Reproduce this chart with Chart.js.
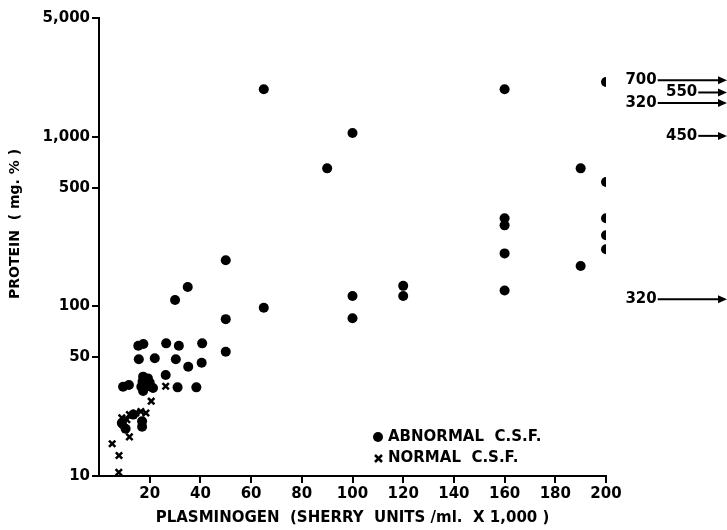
<!DOCTYPE html>
<html>
<head>
<meta charset="utf-8">
<script src="https://cdn.jsdelivr.net/npm/chart.js@4/dist/chart.umd.min.js"></script>
<style>
  body { margin: 0; background: #fff; }
</style>
</head>
<body>
<canvas id="plasChart" width="727" height="530"></canvas>
<script>
// abnormal C.S.F. (filled dots)
const abnormalX = [65, 100, 90, 160, 200, 190, 200, 200, 200, 200, 190, 160, 160, 160, 160,
  120, 120, 100, 100, 65, 50, 50, 50, 35, 30,
  15.5, 17.5, 26.5, 31.5, 40.7, 15.7, 22, 30.3, 35.2, 40.5, 26.3,
  17.4, 19.3, 17.2, 20, 16.7, 18.5, 17.4, 21.3, 9.5, 11.8, 31, 38.4,
  9, 10.5, 17, 17, 13.5];
const abnormalY = [1900, 1050, 650, 1900, 2100, 650, 540, 330, 262, 217, 173, 330, 300, 205, 124,
  132, 115, 115, 85, 98, 187, 84, 54, 130, 109,
  58.5, 60, 60.5, 58.5, 60.5, 48.7, 49.4, 48.7, 44, 46.5, 39.4,
  38.5, 37.6, 36, 35.5, 33.6, 33.6, 31.7, 33, 33.6, 34.4, 33.3, 33.3,
  20.5, 19, 19.5, 21, 23];

// normal C.S.F. (crosses)
const normalX = [26.3, 20.6, 9, 9.5, 11, 12, 12, 14.5, 16.5, 18.5, 5.2, 7.9, 7.8];
const normalY = [33.8, 27.6, 22, 20, 21.5, 17, 23, 23.5, 24, 23.5, 15.5, 13.2, 10.5];

// off-scale values (plasminogen beyond 200), shown with arrows at their protein level
const offLabels = ["700", "550", "320", "450", "320"];
const offProtein = [2150, 1820, 1580, 1010, 110];

const xTicks = [20, 40, 60, 80, 100, 120, 140, 160, 180, 200];
const yTicks = [10, 50, 100, 500, 1000, 5000];
const yTickLabels = ["10", "50", "100", "500", "1,000", "5,000"];

const FONT = "DejaVu Sans";
const arrowStart = [220, 236, 220, 236, 220]; // where each label ends, in x units

const extras = {
  id: "extras",
  afterDraw(chart) {
    const c = chart.ctx;
    const xs = chart.scales.x, ys = chart.scales.y;
    c.save();
    c.fillStyle = "#000";
    c.strokeStyle = "#000";
    c.font = "bold 15px " + FONT;
    c.textBaseline = "middle";

    // off-scale arrows
    offLabels.forEach((lab, i) => {
      const y = ys.getPixelForValue(offProtein[i]);
      const xe = xs.getPixelForValue(arrowStart[i]);
      c.textAlign = "right";
      c.fillText(lab, xe, y);
      c.lineWidth = 2;
      c.beginPath();
      c.moveTo(xe + 1, y);
      c.lineTo(chart.width - 6, y);
      c.stroke();
      c.beginPath();
      c.moveTo(chart.width, y);
      c.lineTo(chart.width - 9, y - 4);
      c.lineTo(chart.width - 9, y + 4);
      c.closePath();
      c.fill();
    });

    // legend
    c.textAlign = "left";
    c.beginPath();
    c.arc(378, 437, 5, 0, Math.PI * 2);
    c.fill();
    c.fillText("ABNORMAL  C.S.F.", 388, 437);
    c.lineWidth = 2.5;
    c.beginPath();
    c.moveTo(375, 455); c.lineTo(382, 462);
    c.moveTo(382, 455); c.lineTo(375, 462);
    c.stroke();
    c.fillText("NORMAL  C.S.F.", 388, 458);

    // y title
    c.translate(15, 224);
    c.rotate(-Math.PI / 2);
    c.textAlign = "center";
    c.font = "bold 14px " + FONT;
    c.fillText("PROTEIN  ( mg. % )", 0, 0);
    c.restore();
  }
};

const ctx = document.getElementById("plasChart").getContext("2d");

const plasChart = new Chart(ctx, {
  type: "scatter",
  data: {
    datasets: [{
      label: "ABNORMAL C.S.F.",
      data: abnormalX.map((x, i) => ({ x: x, y: abnormalY[i] })),
      pointStyle: "circle",
      pointRadius: 5,
      backgroundColor: "#000",
      borderColor: "#000",
      borderWidth: 0
    }, {
      label: "NORMAL C.S.F.",
      data: normalX.map((x, i) => ({ x: x, y: normalY[i] })),
      pointStyle: "crossRot",
      pointRadius: 4.5,
      borderColor: "#000",
      borderWidth: 2.5
    }]
  },
  options: {
    responsive: false,
    animation: false,
    layout: { padding: { left: 0, top: 18, right: 121, bottom: 0 } },
    plugins: {
      legend: { display: false },
      tooltip: { enabled: false }
    },
    scales: {
      x: {
        type: "linear",
        min: 0,
        max: 200,
        afterBuildTicks: s => { s.ticks = xTicks.map(v => ({ value: v })); },
        afterFit: s => { s.height = 54; },
        border: { display: true, color: "#000", width: 2 },
        grid: { drawOnChartArea: false, drawTicks: true, tickLength: 7, color: "#000", lineWidth: 2 },
        ticks: { color: "#000", font: { family: FONT, size: 15, weight: "bold" }, padding: 2, maxRotation: 0 },
        title: {
          display: true,
          text: "PLASMINOGEN  (SHERRY  UNITS /ml.  X 1,000 )",
          color: "#000",
          font: { family: FONT, size: 15, weight: "bold" },
          padding: { top: 0, bottom: 3 }
        }
      },
      y: {
        type: "logarithmic",
        min: 10,
        max: 5000,
        afterBuildTicks: s => { s.ticks = yTicks.map(v => ({ value: v })); },
        afterFit: s => { s.width = 99; },
        border: { display: true, color: "#000", width: 2 },
        grid: { drawOnChartArea: false, drawTicks: true, tickLength: 7, color: "#000", lineWidth: 2 },
        ticks: {
          color: "#000",
          font: { family: FONT, size: 15, weight: "bold" },
          padding: 2,
          callback: (v, i) => yTickLabels[i]
        }
      }
    }
  },
  plugins: [extras]
});
</script>
</body>
</html>
